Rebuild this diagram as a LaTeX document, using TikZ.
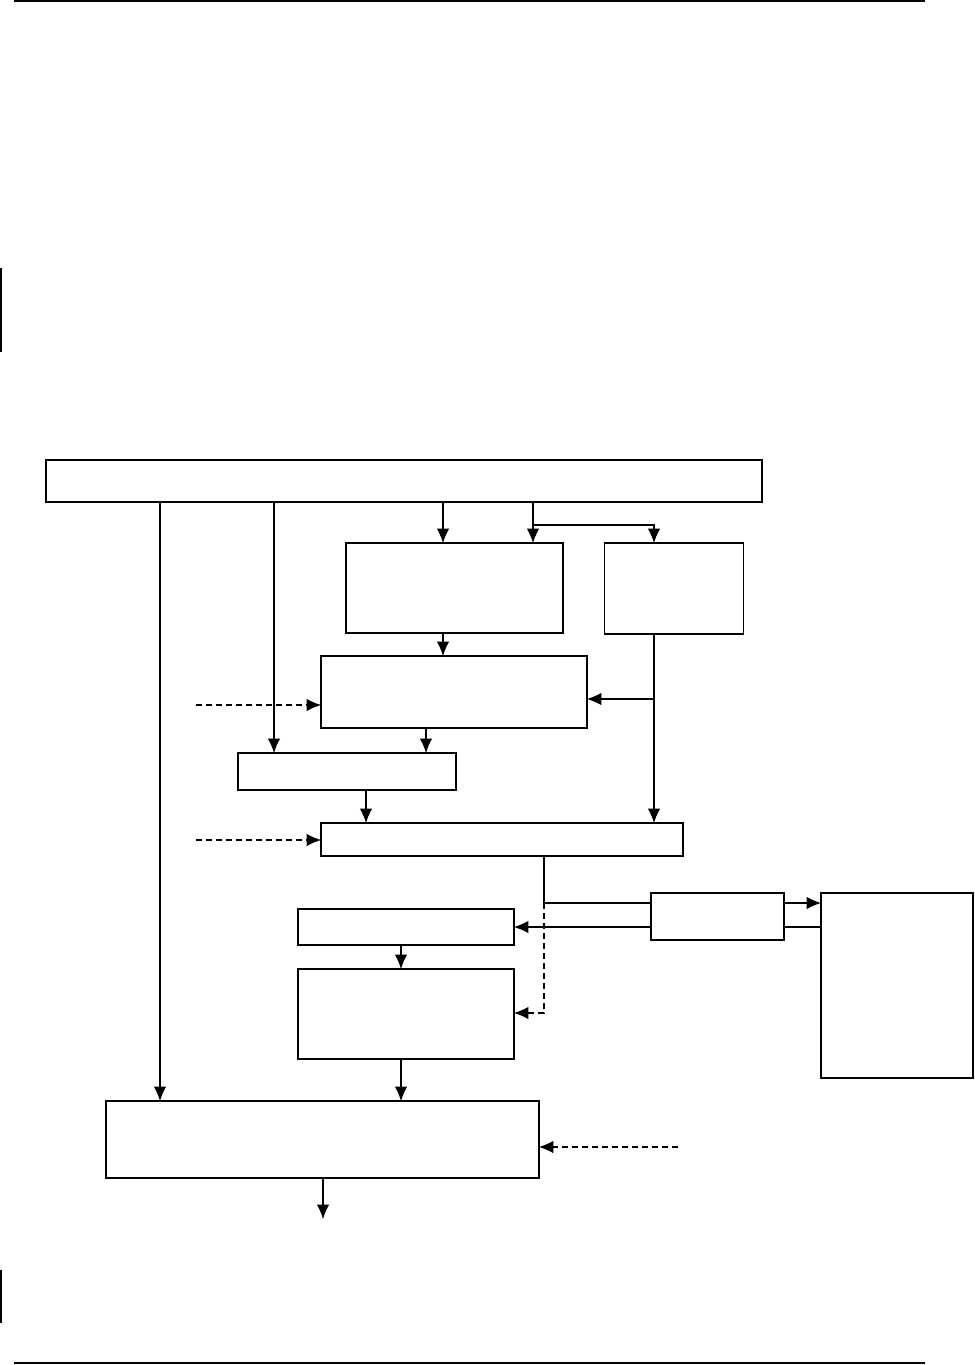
\documentclass[tikz,border=0pt]{standalone}
\usepackage{tikz}
\usetikzlibrary{arrows.meta}

\begin{document}
\begin{tikzpicture}[x=0.02cm, y=-0.02cm,
    box/.style={draw, line width=0.9pt, inner sep=0pt, outer sep=0pt},
    >={Latex[length=2.9mm, width=2.5mm]},
    flow/.style={->, line width=0.6pt},
    hint/.style={->, line width=0.6pt, dash pattern=on 1.2mm off 0.8mm}]
    \useasboundingbox (0,0) rectangle (974,1365);

    % page rules
    \draw[line width=1pt] (14,1) -- (925,1);
    \draw[line width=1pt] (14,1363) -- (925,1363);
    \draw[line width=1pt] (1,268) -- (1,352);
    \draw[line width=1pt] (1,1270) -- (1,1323);

    \node[box, minimum width=14.32cm, minimum height=0.84cm] (bar)  at (404,481)     {};
    \node[box, minimum width=4.34cm,  minimum height=1.8cm]  (upl)  at (454.5,588)   {};
    \node[box, minimum width=2.78cm,  minimum height=1.82cm] (upr)  at (674,588.5)   {};
    \node[box, minimum width=5.32cm,  minimum height=1.44cm] (mid)  at (454,692)     {};
    \node[box, minimum width=4.36cm,  minimum height=0.74cm] (hold) at (347,771.5)   {};
    \node[box, minimum width=7.24cm,  minimum height=0.66cm] (wide) at (502,839.5)   {};
    \node[box, minimum width=2.66cm,  minimum height=0.94cm] (small) at (717.5,916.5) {};
    \node[box, minimum width=3.04cm,  minimum height=3.7cm]  (tall) at (897,985.5)   {};
    \node[box, minimum width=4.32cm,  minimum height=0.72cm] (sel)  at (406,927)     {};
    \node[box, minimum width=4.32cm,  minimum height=1.8cm]  (proc) at (406,1014)    {};
    \node[box, minimum width=8.66cm,  minimum height=1.54cm] (out)  at (322.5,1139.5) {};

    \coordinate (fork) at (533,525);
    \coordinate (tee)  at (654,699);
    \coordinate (in1)  at (196,705);
    \coordinate (in2)  at (196,840);
    \coordinate (in3)  at (678,1147);
    \coordinate (knee) at (544,903);
    \coordinate (exit) at (323,1219);

    % from the top bar
    \draw[flow] (bar.south -| 160,0) -- (out.north -| 160,0);
    \draw[flow] (bar.south -| 274,0) -- (hold.north -| 274,0);
    \draw[flow] (bar.south -| 443,0) -- (upl.north -| 443,0);
    \draw[flow] (bar.south -| fork) -- (upl.north -| fork);
    \draw[flow] (fork) -| (upr.north -| tee);

    \draw[flow] (upl.south -| 443,0) -- (mid.north -| 443,0);
    \draw[flow] (upr.south -| tee) -- (wide.north -| tee);
    \draw[flow] (tee) -- (mid.east |- tee);
    \draw[hint] (in1) -- (mid.west |- in1);

    \draw[flow] (mid.south -| 426,0) -- (hold.north -| 426,0);
    \draw[flow] (hold.south -| 366,0) -- (wide.north -| 366,0);
    \draw[hint] (in2) -- (wide.west |- in2);

    \draw[line width=0.6pt] (wide.south -| knee) |- (small.west |- knee);
    \draw[flow] (small.west |- 0,927) -- (sel.east |- 0,927);
    \draw[flow] (small.east |- knee) -- (tall.west |- knee);
    \draw[line width=0.6pt] (small.east |- 0,927) -- (tall.west |- 0,927);
    \draw[hint] (knee) |- (proc.east |- 0,1013);

    \draw[flow] (sel.south -| 401,0) -- (proc.north -| 401,0);
    \draw[flow] (proc.south -| 401,0) -- (out.north -| 401,0);
    \draw[hint] (in3) -- (out.east |- in3);
    \draw[flow] (out.south -| exit) -- (exit);

%    \draw[hint] (in1) -- (in2);
\end{tikzpicture}
\end{document}
